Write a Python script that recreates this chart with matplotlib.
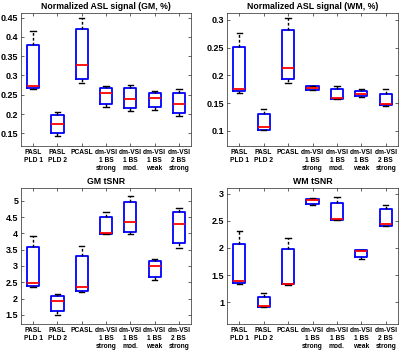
import matplotlib
matplotlib.use("Agg")
import matplotlib.pyplot as plt

plt.rcParams['font.family'] = ['Liberation Sans', 'DejaVu Sans']
plt.rcParams['font.weight'] = 'bold'

labels = ["PASL\nPLD 1", "PASL\nPLD 2", "PCASL", "dm-VSI\n1 BS\nstrong",
          "dm-VSI\n1 BS\nmod.", "dm-VSI\n1 BS\nweak", "dm-VSI\n2 BS\nstrong"]

# each row: (lower whisker, q1, median, q3, upper whisker)
gm_signal = [
    (0.264, 0.267, 0.273, 0.379, 0.414),
    (0.143, 0.150, 0.173, 0.197, 0.206),
    (0.281, 0.291, 0.326, 0.420, 0.450),
    (0.219, 0.227, 0.254, 0.268, 0.273),
    (0.209, 0.216, 0.240, 0.267, 0.275),
    (0.210, 0.219, 0.242, 0.255, 0.259),
    (0.195, 0.202, 0.226, 0.254, 0.264),
]
wm_signal = [
    (0.169, 0.172, 0.176, 0.251, 0.276),
    (0.101, 0.102, 0.107, 0.131, 0.139),
    (0.186, 0.193, 0.213, 0.281, 0.303),
    (0.173, 0.174, 0.177, 0.180, 0.181),
    (0.158, 0.158, 0.159, 0.175, 0.180),
    (0.161, 0.163, 0.166, 0.172, 0.175),
    (0.145, 0.146, 0.149, 0.167, 0.175),
]
gm_tsnr = [
    (2.35, 2.40, 2.49, 3.57, 3.92),
    (1.50, 1.62, 1.94, 2.08, 2.14),
    (2.21, 2.23, 2.34, 3.30, 3.61),
    (3.98, 3.98, 4.00, 4.49, 4.66),
    (3.97, 4.05, 4.36, 4.95, 5.15),
    (2.56, 2.66, 3.00, 3.16, 3.21),
    (3.54, 3.72, 4.30, 4.65, 4.79),
]
wm_tsnr = [
    (1.33, 1.35, 1.385, 2.07, 2.31),
    (0.92, 0.92, 0.925, 1.10, 1.17),
    (1.32, 1.33, 1.34, 1.98, 2.19),
    (2.79, 2.80, 2.88, 2.90, 2.91),
    (2.52, 2.52, 2.54, 2.83, 2.94),
    (1.79, 1.83, 1.94, 1.96, 1.97),
    (2.41, 2.41, 2.44, 2.71, 2.79),
]

panels = [
    ("Normalized ASL signal (GM, %)", gm_signal, (0.117, 0.462),
     [0.15, 0.2, 0.25, 0.3, 0.35, 0.4, 0.45], [0.0525, 0.584, 0.425, 0.379]),
    ("Normalized ASL signal (WM, %)", wm_signal, (0.0724, 0.3126),
     [0.1, 0.15, 0.2, 0.25, 0.3], [0.5675, 0.584, 0.4275, 0.379]),
    ("GM tSNR", gm_tsnr, (1.22, 5.39),
     [1.5, 2, 2.5, 3, 3.5, 4, 4.5, 5], [0.0525, 0.077, 0.425, 0.387]),
    ("WM tSNR", wm_tsnr, (0.60, 3.10),
     [1, 1.5, 2, 2.5, 3], [0.5675, 0.077, 0.4275, 0.387]),
]

fig = plt.figure(figsize=(4.0, 3.51), dpi=100)

for title, data, ylim, yticks, rect in panels:
    ax = fig.add_axes(rect)
    stats = [dict(whislo=d[0], q1=d[1], med=d[2], q3=d[3], whishi=d[4], fliers=[])
             for d in data]
    ax.bxp(stats, positions=range(1, 8), widths=0.5, capwidths=0.22,
           boxprops=dict(color="#0000ff", linewidth=1.3),
           medianprops=dict(color="#ff0000", linewidth=1.3),
           whiskerprops=dict(color="black", linestyle=(0, (2, 1.5)), linewidth=1.0),
           capprops=dict(color="black", linewidth=1.0),
           showfliers=False)
    ax.set_xlim(0.5, 7.5)
    ax.set_ylim(*ylim)
    ax.set_yticks(yticks)
    ax.set_yticklabels([f"{t:g}" for t in yticks])
    ax.set_xticks(range(1, 8))
    ax.set_xticklabels(labels, fontsize=4.8, linespacing=1.2)
    ax.tick_params(axis="y", labelsize=6.5)
    ax.tick_params(direction="in", length=2, width=0.5, top=True, right=True,
                   color="#262626", pad=2)
    for s in ax.spines.values():
        s.set_linewidth(0.5)
        s.set_color("#262626")
    ax.set_title(title, fontsize=6.3, fontweight="bold", pad=3)

fig.savefig("out.png", dpi=100)
